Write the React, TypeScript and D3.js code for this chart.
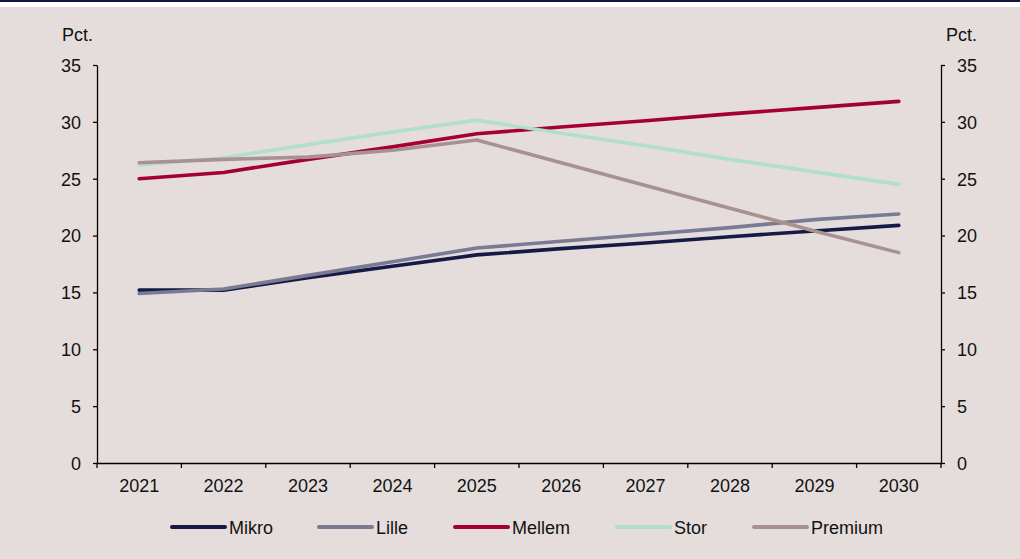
import { select, scaleBand, scaleLinear, line, axisLeft, axisRight, axisBottom } from "d3";
import React, { useEffect, useRef } from "react";

const years = ["2021", "2022", "2023", "2024", "2025", "2026", "2027", "2028", "2029", "2030"];
const mikro = [15.2, 15.2, 16.3, 17.3, 18.3, 18.85, 19.35, 19.9, 20.4, 20.9];
const lille = [14.9, 15.3, 16.5, 17.7, 18.9, 19.5, 20.1, 20.7, 21.4, 21.9];
const mellem = [25.0, 25.55, 26.7, 27.8, 28.95, 29.55, 30.1, 30.7, 31.25, 31.8];
const stor = [26.2, 26.85, 28.0, 29.1, 30.15, 29.0, 27.9, 26.7, 25.6, 24.5];
const premium = [26.4, 26.7, 26.9, 27.5, 28.4, 26.4, 24.4, 22.4, 20.4, 18.5];
const yTicks = [0, 5, 10, 15, 20, 25, 30, 35];

const series = [
  { name: "Mikro", values: mikro, color: "#141a45" },
  { name: "Lille", values: lille, color: "#7a7b93" },
  { name: "Mellem", values: mellem, color: "#a50034" },
  { name: "Stor", values: stor, color: "#b1dfcb" },
  { name: "Premium", values: premium, color: "#a89290" },
];

const W = 1020;
const H = 559;
const FONT = "'Liberation Sans', Arial, sans-serif";

export default function App() {
  const svgRef = useRef(null);

  useEffect(() => {
    const svg = select(svgRef.current);
    svg.selectAll("*").remove();

    // background + top rule
    svg.append("rect").attr("width", W).attr("height", H).attr("fill", "#ffffff");
    svg.append("rect").attr("width", W).attr("height", 2).attr("fill", "#111a3e");
    svg.append("rect").attr("y", 7).attr("width", W).attr("height", H - 7).attr("fill", "#e4dddc");

    const left = 97;
    const right = 941;
    const top = 65;
    const bottom = 463;

    const x = scaleBand().domain(years).range([left, right]);
    const y = scaleLinear().domain([0, 35]).range([bottom, top]);

    const styleAxis = (g) => {
      g.selectAll("path").attr("stroke", "#000").attr("stroke-width", 1.3);
      g.selectAll("line").attr("stroke", "#000").attr("stroke-width", 1.3);
      g.selectAll("text")
        .attr("fill", "#111")
        .style("font-family", FONT)
        .style("font-size", "18px");
    };

    svg
      .append("g")
      .attr("transform", `translate(${left},0)`)
      .call(axisLeft(y).tickValues(yTicks).tickSizeInner(4).tickSizeOuter(0).tickPadding(12))
      .call(styleAxis)
      .call((g) => g.selectAll("text").attr("dy", "0.35em"));

    svg
      .append("g")
      .attr("transform", `translate(${right},0)`)
      .call(axisRight(y).tickValues(yTicks).tickSizeInner(4).tickSizeOuter(0).tickPadding(12))
      .call(styleAxis)
      .call((g) => g.selectAll("text").attr("dy", "0.35em"));

    // x axis: ticks between categories
    const xg = svg
      .append("g")
      .attr("transform", `translate(0,${bottom})`)
      .call(axisBottom(x).tickSize(0).tickPadding(16))
      .call(styleAxis);
    const bounds = years.map((d) => x(d)).concat([right]);
    xg.selectAll(".sep")
      .data(bounds)
      .join("line")
      .attr("class", "sep")
      .attr("x1", (d) => d)
      .attr("x2", (d) => d)
      .attr("y1", 0)
      .attr("y2", 5)
      .attr("stroke", "#000")
      .attr("stroke-width", 1.3);

    svg
      .append("text")
      .attr("x", 62)
      .attr("y", 41)
      .text("Pct.")
      .style("font-family", FONT)
      .style("font-size", "18px")
      .attr("fill", "#111");
    svg
      .append("text")
      .attr("x", 946)
      .attr("y", 41)
      .text("Pct.")
      .style("font-family", FONT)
      .style("font-size", "18px")
      .attr("fill", "#111");

    const lineGen = line()
      .x((d, i) => x(years[i]) + x.bandwidth() / 2)
      .y((d) => y(d));

    svg
      .selectAll(".series")
      .data(series)
      .join("path")
      .attr("class", "series")
      .attr("d", (s) => lineGen(s.values))
      .attr("fill", "none")
      .attr("stroke", (s) => s.color)
      .attr("stroke-width", 3.6)
      .attr("stroke-linecap", "round")
      .attr("stroke-linejoin", "round");

    // legend
    const legendX = [172, 319, 455, 617, 754];
    const lg = svg
      .selectAll(".legend")
      .data(series)
      .join("g")
      .attr("class", "legend")
      .attr("transform", (s, i) => `translate(${legendX[i]},527)`);
    lg.append("line")
      .attr("x1", 0)
      .attr("x2", 53)
      .attr("stroke", (s) => s.color)
      .attr("stroke-width", 4)
      .attr("stroke-linecap", "round");
    lg.append("text")
      .attr("x", 57)
      .attr("y", 7)
      .text((s) => s.name)
      .style("font-family", FONT)
      .style("font-size", "18px")
      .attr("fill", "#111");
  }, []);

  return (
    <svg
      ref={svgRef}
      width={W}
      height={H}
      style={{ position: "absolute", left: 0, top: 0, display: "block" }}
    />
  );
}
